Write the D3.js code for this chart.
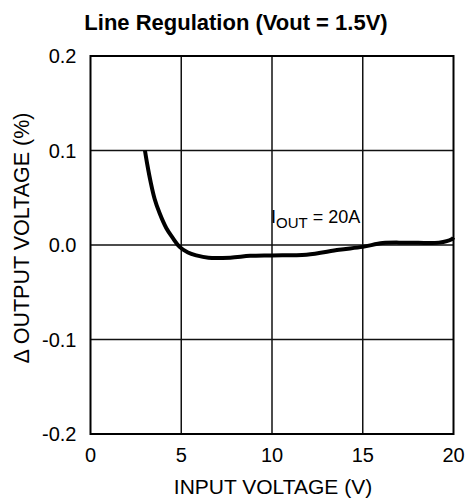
<!DOCTYPE html>
<html>
<head>
<meta charset="utf-8">
<script src="https://cdn.jsdelivr.net/npm/d3@7"></script>
<style>
  body { margin: 0; background: #fff; }
  text { font-family: Arial, "Liberation Sans", Helvetica, sans-serif; fill: #000; }
</style>
</head>
<body>
<div id="chart"></div>
<script>
var vin = [3, 3.13, 3.31, 3.53, 3.81, 4.18, 4.55, 4.91, 5.37, 5.83, 6.5, 7.7, 8.8, 10, 11.9, 13.7, 15, 16.1, 17.4, 19.2, 19.9, 20];
var dvout = [0.1, 0.085, 0.067, 0.049, 0.0335, 0.0177, 0.007, -0.002, -0.008, -0.011, -0.0135, -0.0134, -0.0115, -0.011, -0.0102, -0.005, -0.002, 0.002, 0.0025, 0.0025, 0.006, 0.008];
var xTicks = [0, 5, 10, 15, 20];
var yTicks = [-0.2, -0.1, 0.0, 0.1, 0.2];

(function() {
    var width = 467,
        height = 499;

    var margin = { left: 90.5, right: 13.5, top: 56, bottom: 65 };

    var svg = d3.select("#chart")
        .append("svg")
        .attr("width", width)
        .attr("height", height);

    var x = d3.scaleLinear().domain([0, 20]).range([margin.left, width - margin.right]);
    var y = d3.scaleLinear().domain([-0.2, 0.2]).range([height - margin.bottom, margin.top]);

    // grid
    svg.selectAll(".vgrid")
        .data(xTicks.slice(1, -1))
        .enter().append("line")
        .attr("x1", function(d) { return x(d); })
        .attr("x2", function(d) { return x(d); })
        .attr("y1", y(0.2))
        .attr("y2", y(-0.2))
        .attr("stroke", "#111")
        .attr("stroke-width", 1.5);

    svg.selectAll(".hgrid")
        .data(yTicks.slice(1, -1))
        .enter().append("line")
        .attr("x1", x(0))
        .attr("x2", x(20))
        .attr("y1", function(d) { return y(d); })
        .attr("y2", function(d) { return y(d); })
        .attr("stroke", "#111")
        .attr("stroke-width", 1.5);

    // frame
    svg.append("rect")
        .attr("x", x(0))
        .attr("y", y(0.2))
        .attr("width", x(20) - x(0))
        .attr("height", y(-0.2) - y(0.2))
        .attr("fill", "none")
        .attr("stroke", "#000")
        .attr("stroke-width", 2);

    // tick labels
    svg.selectAll(".xlab")
        .data(xTicks)
        .enter().append("text")
        .attr("x", function(d) { return x(d); })
        .attr("y", y(-0.2) + 28)
        .attr("text-anchor", "middle")
        .style("font-size", "20px")
        .text(function(d) { return d; });

    svg.selectAll(".ylab")
        .data(yTicks)
        .enter().append("text")
        .attr("x", x(0) - 14)
        .attr("y", function(d) { return y(d) + 7; })
        .attr("text-anchor", "end")
        .style("font-size", "20px")
        .text(function(d) { return d3.format(".1f")(d).replace("\u2212", "-"); });

    // titles
    svg.append("text")
        .attr("x", 236)
        .attr("y", 30)
        .attr("text-anchor", "middle")
        .style("font-size", "22px")
        .style("font-weight", "bold")
        .text("Line Regulation (Vout = 1.5V)");

    svg.append("text")
        .attr("x", x(10) + 1)
        .attr("y", 494)
        .attr("text-anchor", "middle")
        .style("font-size", "21px")
        .text("INPUT VOLTAGE (V)");

    svg.append("text")
        .attr("transform", "translate(29," + 238 + ") rotate(-90)")
        .attr("text-anchor", "middle")
        .style("font-size", "21.5px")
        .text("\u0394 OUTPUT VOLTAGE (%)");

    // curve
    var line = d3.line()
        .x(function(d, i) { return x(vin[i]); })
        .y(function(d) { return y(d); })
        .curve(d3.curveCatmullRom.alpha(0.5));

    svg.append("path")
        .datum(dvout)
        .attr("d", line)
        .attr("fill", "none")
        .attr("stroke", "#000")
        .attr("stroke-width", 4);

    // annotation
    var ann = svg.append("text")
        .attr("x", 271)
        .attr("y", 223)
        .style("font-size", "18px");
    ann.append("tspan").text("I");
    ann.append("tspan").attr("dy", 5).style("font-size", "15px").text("OUT");
    ann.append("tspan").attr("dy", -5).text(" = 20A");
})();
</script>
</body>
</html>
